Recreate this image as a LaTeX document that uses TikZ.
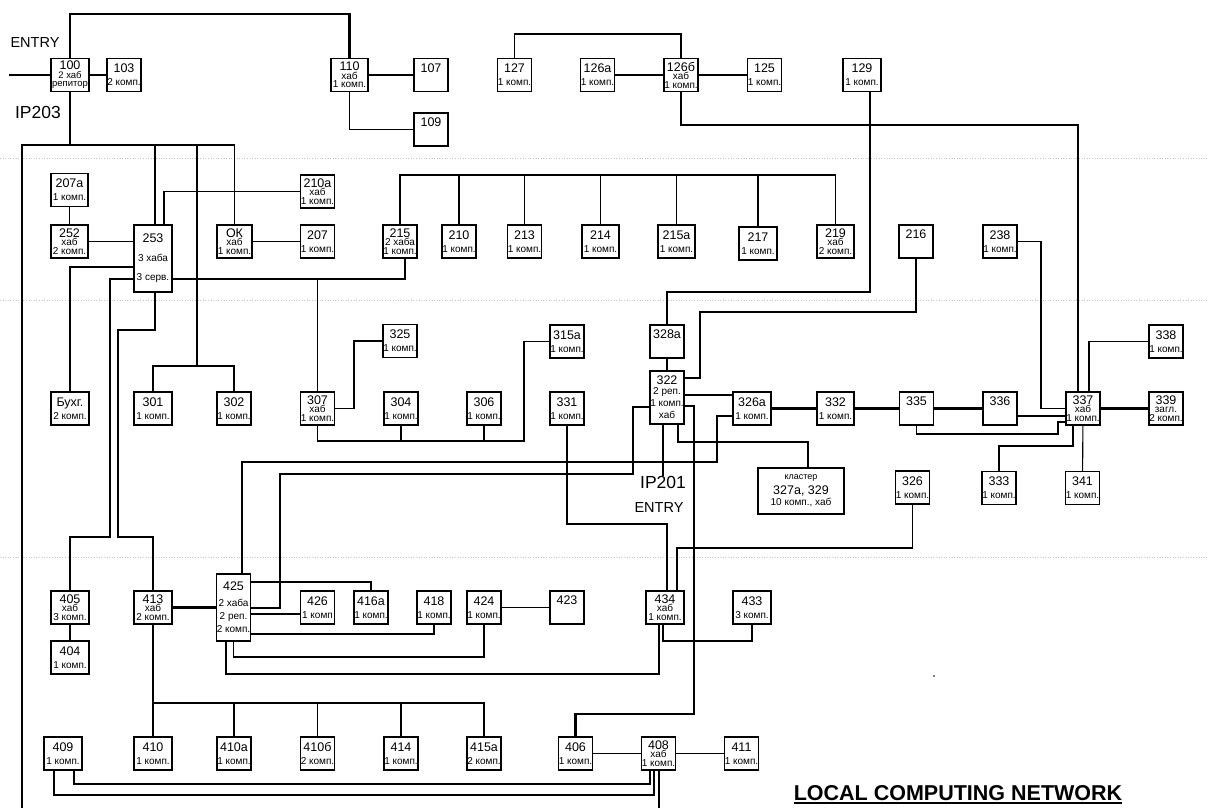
\documentclass[tikz,border=0pt]{standalone}
\usepackage{fontspec}
\setmainfont{Liberation Sans}
\usepackage{tikz}

\newcommand\numf{\fontsize{12.5}{13}\selectfont}
\newcommand\boxone[1]{{\numf #1}\\[4pt]\phantom{1}}
\newcommand\boxtwo[2]{{\numf #1}\\[3pt]#2}
\newcommand\boxhub[3]{{\numf #1}\\[-1.5pt]#2\\[-1.5pt]#3}

\begin{document}
\begin{tikzpicture}[
  x=1pt, y=-1pt,
  font=\fontsize{10}{10}\selectfont,
  box/.style={draw, line width=1.2pt, minimum width=34pt, minimum height=33pt,
              inner sep=0pt, align=center},
  wbox/.style={box, minimum width=38pt},
  ln/.style={line width=1.1pt},
  tk/.style={line width=2.6pt},
  big/.style={font=\fontsize{17.5}{18}\selectfont, inner sep=0pt},
  ent/.style={font=\fontsize{14.5}{15}\selectfont, inner sep=0pt},
  page/.style={gray!45, dotted, line width=0.6pt},
]
\useasboundingbox (0,0) rectangle (1208,808);

% page breaks
\foreach \y in {158,300,557}
  \draw[page] (0,\y) -- (1208,\y);

% =============================================================== row 1
\node[wbox, font=\fontsize{9.5}{10}\selectfont] (n100) at (70,75) {\boxhub{100}{2 хаб}{репитор}};
\node[box] (n103) at (124,75) {\boxtwo{103}{2 комп.}};
\node[box, minimum width=37pt] (n110) at (349.5,75) {\boxhub{110}{хаб}{1 комп.}};
\node[box] (n107) at (431,75) {\boxone{107}};
\node[box] (n109) at (431,129.5) {\boxone{109}};
\node[box] (n127) at (514.5,75) {\boxtwo{127}{1 комп.}};
\node[box] (n126a) at (597.5,75) {\boxtwo{126а}{1 комп.}};
\node[box] (n126b) at (681,75) {\boxhub{126б}{хаб}{1 комп.}};
\node[box] (n125) at (764.5,75) {\boxtwo{125}{1 комп.}};
\node[wbox] (n129) at (862,75) {\boxtwo{129}{1 комп.}};

\node[ent] (entry1) at (35,43) {ENTRY};
\node[big] (ip203) at (38,112) {IP203};

% =============================================================== row 2
\node[box, minimum width=37pt] (n207a) at (69.5,190) {\boxtwo{207а}{1 комп.}};
\node[box, minimum width=37pt] (n252) at (69.5,241.5) {\boxhub{252}{хаб}{2 комп.}};
\node[wbox, minimum height=67pt] (n253) at (153,258.5) {{\numf 253}\\[9pt]3 хаба\\[9pt]3 серв.};
\node[box, minimum width=35pt] (nOK) at (234.5,241.5) {\boxhub{ОК}{хаб}{1 комп.}};
\node[box] (n210a) at (317.5,191.5) {\boxhub{210а}{хаб}{1 комп.}};
\node[box] (n207) at (317.5,241.5) {\boxtwo{207}{1 комп.}};
\node[box] (n215) at (400,241.5) {\boxhub{215}{2 хаба}{1 комп.}};
\node[box] (n210) at (459,241.5) {\boxtwo{210}{1 комп.}};
\node[box] (n213) at (524.5,241.5) {\boxtwo{213}{1 комп.}};
\node[box, minimum width=37pt] (n214) at (600.5,241.5) {\boxtwo{214}{1 комп.}};
\node[box, minimum width=37pt] (n215a) at (676.5,241.5) {\boxtwo{215а}{1 комп.}};
\node[wbox] (n217) at (758,243.5) {\boxtwo{217}{1 комп.}};
\node[box, minimum width=37pt] (n219) at (835.5,241.5) {\boxhub{219}{хаб}{2 комп.}};
\node[box] (n216) at (916,241.5) {\boxone{216}};
\node[box] (n238) at (1000,241.5) {\boxtwo{238}{1 комп.}};

% =============================================================== row 3
\node[box] (n325) at (400,341) {\boxtwo{325}{1 комп.}};
\node[box] (n315a) at (567,341.5) {\boxtwo{315а}{1 комп.}};
\node[box] (n328a) at (667,341.5) {\boxone{328а}};
\node[box] (n338) at (1166,341.5) {\boxtwo{338}{1 комп.}};
\node[wbox] (nBux) at (70,408.5) {\boxtwo{Бухг.}{2 комп.}};
\node[wbox] (n301) at (153,408.5) {\boxtwo{301}{1 комп.}};
\node[box] (n302) at (234,408.5) {\boxtwo{302}{1 комп.}};
\node[box] (n307) at (317.5,408.5) {\boxhub{307}{хаб}{1 комп.}};
\node[box] (n304) at (401,408.5) {\boxtwo{304}{1 комп.}};
\node[box] (n306) at (484,408.5) {\boxtwo{306}{1 комп.}};
\node[box] (n331) at (567,408.5) {\boxtwo{331}{1 комп.}};
\node[box, minimum height=53pt] (n322) at (667,397.5)
  {{\numf 322}\\[0pt]2 реп.\\[2pt]1 комп.\\[2pt]хаб};
\node[wbox] (n326a) at (752,408.5) {\boxtwo{326а}{1 комп.}};
\node[box, minimum width=37pt] (n332) at (835.5,408.5) {\boxtwo{332}{1 комп.}};
\node[box] (n335) at (916.5,408.5) {\boxone{335}};
\node[box] (n336) at (1000,408.5) {\boxone{336}};
\node[box] (n337) at (1083,408.5) {\boxhub{337}{хаб}{1 комп.}};
\node[box] (n339) at (1166,408.5) {\boxhub{339}{загл.}{2 комп.}};
\node[box, minimum width=86pt, minimum height=46pt] (nclu) at (801,491)
  {{\fontsize{9}{9}\selectfont кластер}\\[3pt]{\numf 327а, 329}\\[1pt]10 комп., хаб};
\node[box] (n326) at (912.5,487.5) {\boxtwo{326}{1 комп.}};
\node[box] (n333) at (999,488) {\boxtwo{333}{1 комп.}};
\node[box] (n341) at (1082.5,488) {\boxtwo{341}{1 комп.}};

\node[big] (ip201) at (663,482.5) {IP201};
\node[ent] (entry2) at (659,508) {ENTRY};

% =============================================================== row 4
\node[wbox] (n405) at (70,607.5) {\boxhub{405}{хаб}{3 комп.}};
\node[wbox] (n404) at (70,657.5) {\boxtwo{404}{1 комп.}};
\node[wbox] (n413) at (153,607.5) {\boxhub{413}{хаб}{2 комп.}};
\node[box, minimum height=67pt] (n425) at (233.5,607.5)
  {{\numf 425}\\[6pt]2 хаба\\[3pt]2 реп.\\[3pt]2 комп.};
\node[box] (n426) at (317.5,607.5) {\boxtwo{426}{1 комп}};
\node[box] (n416a) at (371,607.5) {\boxtwo{416а}{1 комп.}};
\node[box] (n418) at (434,607.5) {\boxtwo{418}{1 комп.}};
\node[box] (n424) at (484,607.5) {\boxtwo{424}{1 комп.}};
\node[box] (n423) at (567,607.5) {\boxone{423}};
\node[wbox] (n434) at (665,607.5) {\boxhub{434}{хаб}{1 комп.}};
\node[wbox] (n433) at (752,607.5) {\boxtwo{433}{3 комп.}};

% =============================================================== row 5
\node[wbox] (n409) at (63,753.5) {\boxtwo{409}{1 комп.}};
\node[wbox] (n410) at (153,753.5) {\boxtwo{410}{1 комп.}};
\node[box] (n410a) at (234,753.5) {\boxtwo{410а}{1 комп.}};
\node[box] (n410b) at (317.5,753.5) {\boxtwo{410б}{2 комп.}};
\node[box] (n414) at (401,753.5) {\boxtwo{414}{1 комп.}};
\node[box] (n415a) at (484,753.5) {\boxtwo{415а}{2 комп.}};
\node[box] (n406) at (575.5,753.5) {\boxtwo{406}{1 комп.}};
\node[box] (n408) at (658.5,753.5) {\boxhub{408}{хаб}{1 комп.}};
\node[box] (n411) at (741.5,753.5) {\boxtwo{411}{1 комп.}};

\node[font=\bfseries\fontsize{21.5}{22}\selectfont, inner sep=0pt] (title) at (958,793)
  {LOCAL COMPUTING NETWORK};
\draw[line width=1.7pt] ([yshift=-2.5pt]title.south west) -- ([yshift=-2.5pt]title.south east);

\fill (934,676) circle (0.9pt);

% --- free ends
\coordinate (inA) at (9,75);
\coordinate (lbot) at (22,808);
\coordinate (t197) at (197,145);
\coordinate (rbot) at (659,808);

% =============================================================== wiring, top
\draw[tk] (inA) -- (n100.west);
\draw[tk] (n100.north) |- (n110.north |- 0,14) -- (n110.north);
\draw[ln] (n100) -- (n103);
\draw[ln] (n110) -- (n107);
\draw[ln] (n110.south) |- (n109.west);
\draw[ln] (n127.north) |- (n126b.north |- 0,34) -- (n126b.north);
\draw[ln] (n126a) -- (n126b);
\draw[ln] (n126b) -- (n125);
\draw[ln] (n126b.south) |- (1078,125) -- (n337.north -| 1078,0);
\draw[tk] (n129.south -| 870,0) |- (n328a.north |- 0,292) -- (n328a.north);

% --- IP203 trunk
\draw[ln] (n100.south) -- (n100.south |- 0,145);
\draw[ln] (lbot) |- (nOK.north |- 0,145) -- (nOK.north);
\draw[ln] (n253.north -| 155,0) -- (155,145);
\draw[ln] (t197) |- (n301.north |- 0,366) -- (n301.north);
\draw[ln] (n302.north) |- (197,366);

% =============================================================== wiring, floor 2
\draw[ln] (n207a) -- (n252);
\draw[ln] (n252.east) -- (n252.east -| n253.west);
\draw[ln] (n253.north -| 164,0) |- (n210a.west);
\draw[ln] (nOK) -- (n207);
\draw[ln] (n253.west |- 0,267) -| (nBux.north);
\draw[ln] (n253.west |- 0,279) -| (110,537) -| (n405.north);
\draw[ln] (n253.east |- 0,279) -| (n215.south -| 405,0);
\draw[ln] (n307.north) -- (n307.north |- 0,279);
\draw[tk] (n253.south -| 155,0) |- (118,330) |- (n413.north |- 0,537) -- (n413.north);

\draw[ln] (n215.north) |- (n219.north |- 0,175) -- (n219.north);
\foreach \n in {n210,n213,n214,n215a,n217}
  \draw[ln] (\n.north) -- (\n.north |- 0,175);

\draw[tk] (n216.south) |- (700,312) |- (n322.east |- 0,378);
\draw[ln] (n238.east) -| (1041,408.5) -- (n337.west);

% =============================================================== wiring, floor 3
\draw[tk] (n328a) -- (n322);
\draw[ln] (n325.west) -| (354,408.5) -- (n307.east);
\draw[ln] (n307.south) |- (524,441) |- (n315a.west);
\foreach \n in {n304,n306}
  \draw[ln] (\n.south) -- (\n.south |- 0,441);
\draw[ln] (n331.south) |- (667,524) -- (n434.north -| 667,0);
\draw[ln] (n326.south) |- (677,548) -- (n434.north -| 677,0);

\draw[tk] (n322.east |- 0,395) -- (n326a.west |- 0,395);
\foreach \a/\b in {n326a/n332, n332/n335, n335/n336, n337/n339}
  \draw[tk] (\a) -- (\b);
\draw[tk] (n336.east |- 0,416) -- (n337.west |- 0,416);
\draw[tk] (n322.east |- 0,406) -| (694,714) -| (n406.north);
\draw[tk] (n322.west |- 0,407) -| (633,474) -| (280,608) -- (n425.east |- 0,608);
\draw[ln] (n326a.west |- 0,416) -| (717,462) -| (n425.north -| 242,0);
\draw[tk] (n322.south -| 663,0) -- (ip201);
\draw[ln] (n322.south -| 678,0) |- (808,442) -- (nclu.north -| 808,0);

\draw[ln] (n337.north -| 1089,0) |- (n338.west);
\draw[ln] (n335.south) |- (1058,434) |- (n337.west |- 0,422);
\draw[ln] (n337.south -| 1073,0) |- (n333.north |- 0,446) -- (n333.north);
\draw[ln] (n337) -- (n341);

% =============================================================== wiring, floor 4
\draw[ln] (n405) -- (n404);
\draw[tk] (n413.east) -- (n413.east -| n425.west);
\draw[ln] (n425.east |- 0,614) -- (n426.west |- 0,614);
\draw[ln] (n425.east |- 0,582) -| (n416a.north);
\draw[ln] (n425.east |- 0,634) -| (n418.south);
\draw[ln] (n425.south) |- (n424.south |- 0,657) -- (n424.south);
\draw[tk] (n425.south -| 226,0) |- (659,674) -- (n434.south -| 659,0);
\draw[ln] (n424) -- (n423);
\draw[ln] (n434.south -| 663,0) |- (n433.south |- 0,641) -- (n433.south);
\draw[ln] (n413) -- (n410);
\draw[ln] (n413.south |- 0,703) -| (n415a.north);
\foreach \n in {n410a,n410b,n414}
  \draw[ln] (\n.north) -- (\n.north |- 0,703);

\draw[ln] (n406) -- (n408);
\draw[ln] (n408) -- (n411);
\draw[ln] (n408.south -| 650,0) |- (74,784) -- (n409.south -| 74,0);
\draw[ln] (n408.south -| 654,0) |- (54,795) -- (n409.south -| 54,0);
\draw[ln] (n408.south -| 659,0) -- (rbot);

\end{tikzpicture}
\end{document}
